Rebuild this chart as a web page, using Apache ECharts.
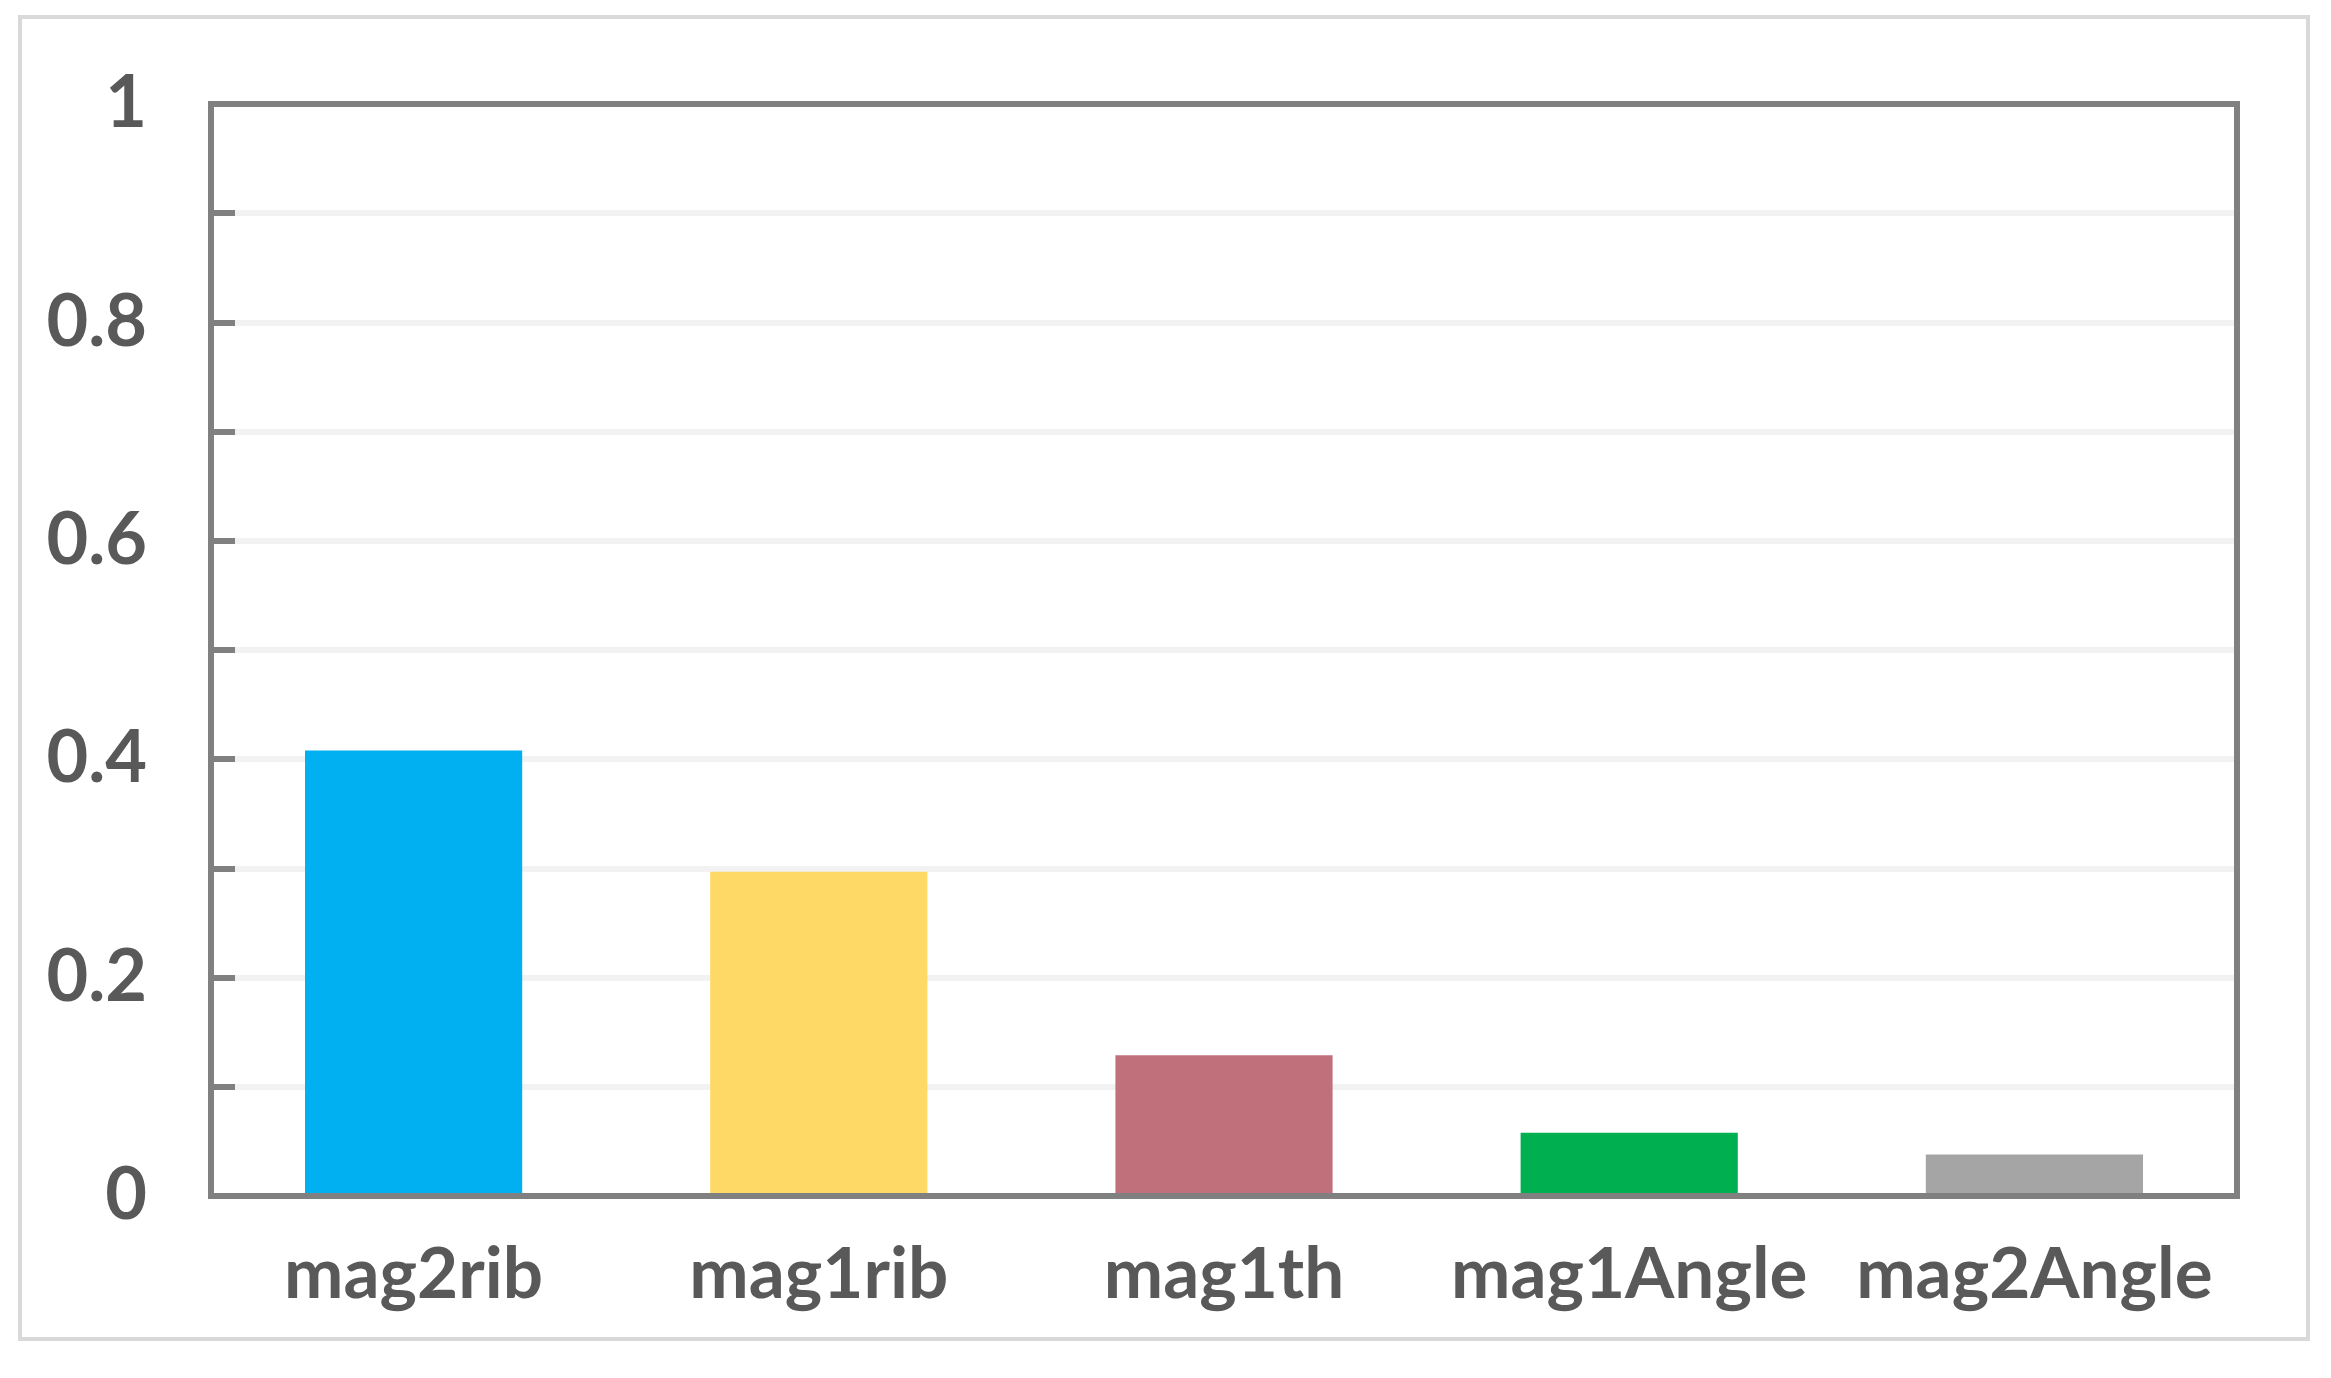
<!DOCTYPE html>
<html>
<head>
<meta charset="utf-8">
<script src="https://cdn.jsdelivr.net/npm/echarts@6/dist/echarts.min.js"></script>
<style>
html,body{margin:0;padding:0;background:#fff;}
#chart{width:2331px;height:1378px;}
</style>
</head>
<body>
<div id="chart"></div>
<script>
const categories = ['mag2rib', 'mag1rib', 'mag1th', 'mag1Angle', 'mag2Angle'];
const values = [0.408, 0.297, 0.129, 0.058, 0.038];
const barColors = ['#00B0F0', '#FED966', '#C0707A', '#00B050', '#A5A5A5'];
const yTickLabels = { 0: '0', 2: '0.2', 4: '0.4', 6: '0.6', 8: '0.8', 10: '1' };

const chart = echarts.init(document.getElementById('chart'));
const textColor = '#595959';
chart.setOption({
  animation: false,
  backgroundColor: '#ffffff',
  graphic: [{
    type: 'rect',
    shape: { x: 20, y: 17, width: 2288, height: 1322 },
    style: { fill: 'none', stroke: '#D9D9D9', lineWidth: 4 },
    z: -1
  }, {
    type: 'rect',
    shape: { x: 211, y: 104, width: 2026, height: 1092 },
    style: { fill: 'none', stroke: '#808080', lineWidth: 6 },
    z: 10
  }],
  grid: {
    left: 211, right: 94, top: 104, bottom: 182,
    show: false
  },
  xAxis: {
    type: 'category',
    data: categories,
    axisLine: { show: true, lineStyle: { color: '#808080', width: 6 } },
    axisTick: { show: false },
    axisLabel: {
      interval: 0,
      color: textColor, fontFamily: 'Lato', fontWeight: 'bold', fontSize: 71, margin: 44
    },
    splitLine: { show: false }
  },
  yAxis: {
    type: 'value',
    min: 0, max: 1, interval: 0.1,
    axisLine: { show: true, lineStyle: { color: '#808080', width: 6 } },
    axisTick: { show: true, inside: true, length: 24, lineStyle: { color: '#808080', width: 6 } },
    axisLabel: {
      color: textColor, fontFamily: 'Lato', fontWeight: 'bold', fontSize: 72, margin: 64,
      formatter: function (v) {
        const k = Math.round(v * 10);
        return yTickLabels[k] !== undefined ? yTickLabels[k] : '';
      }
    },
    splitLine: { show: true, showMaxLine: false, showMinLine: false, lineStyle: { color: '#F2F2F2', width: 6 } }
  },
  series: [{
    type: 'bar',
    data: values.map((v, i) => ({ value: v, itemStyle: { color: barColors[i] } })),
    barWidth: '53.6%',
    z: 3
  }]
});
</script>
</body>
</html>
